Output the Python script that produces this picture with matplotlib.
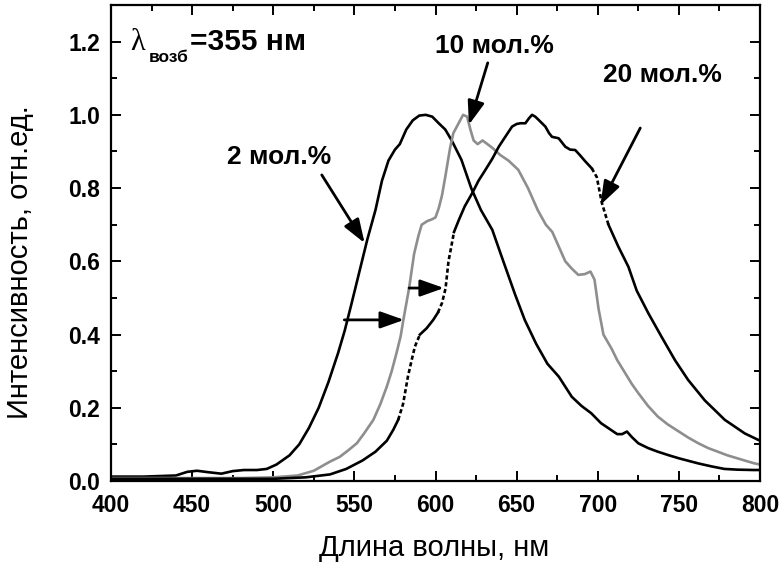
import numpy as np
import matplotlib
matplotlib.use("Agg")
import matplotlib.pyplot as plt
from matplotlib.ticker import MultipleLocator, FormatStrFormatter

# Emission spectra (wavelength nm, normalised intensity)
w2 = [400, 420, 440, 447, 453, 460, 468, 475, 482, 490, 496, 502, 510, 516, 522, 528,
      534, 540, 544, 548, 553, 558, 563, 567, 571, 575, 578, 582, 586, 590, 594, 598,
      602, 606, 610, 616, 622, 628, 635, 641, 649, 655, 662, 669, 676, 684, 690, 696,
      702, 708, 712, 715, 718, 721, 725, 731, 737, 744, 750, 756, 762, 770, 778, 786,
      796, 800]
i2 = [0.012, 0.012, 0.015, 0.025, 0.028, 0.024, 0.020, 0.027, 0.030, 0.030, 0.033, 0.045,
      0.070, 0.100, 0.145, 0.200, 0.270, 0.350, 0.410, 0.480, 0.570, 0.660, 0.740, 0.820,
      0.875, 0.905, 0.920, 0.960, 0.985, 0.998, 1.000, 0.995, 0.977, 0.960, 0.930, 0.877,
      0.800, 0.740, 0.686, 0.610, 0.510, 0.440, 0.375, 0.320, 0.285, 0.230, 0.205, 0.185,
      0.158, 0.140, 0.128, 0.128, 0.135, 0.120, 0.103, 0.090, 0.080, 0.070, 0.062, 0.055,
      0.048, 0.040, 0.033, 0.031, 0.030, 0.030]

w10 = [400, 450, 480, 500, 515, 525, 535, 541, 546, 551.5, 556, 561.7, 566, 570, 573,
       576, 578.5, 580.2, 583.7, 586.8, 589.5, 591.5, 595, 598, 600, 602, 604, 606, 607.5,
       609, 611, 614, 617, 619.5, 621.5, 623.5, 626, 629, 632, 635, 640, 645, 651, 657,
       663, 668, 672, 676, 680, 684, 688, 692, 695.5, 698, 700.5, 703.5, 708.7, 712, 717,
       721, 725, 731, 737, 743, 750, 756, 762, 768, 774, 780, 786, 792, 796.7, 800]
i10 = [0.008, 0.008, 0.008, 0.010, 0.015, 0.028, 0.053, 0.066, 0.083, 0.103, 0.130, 0.167,
       0.210, 0.258, 0.300, 0.350, 0.395, 0.440, 0.526, 0.620, 0.670, 0.700, 0.710, 0.715,
       0.720, 0.745, 0.780, 0.830, 0.870, 0.910, 0.950, 0.975, 1.000, 0.995, 0.960, 0.930,
       0.920, 0.930, 0.920, 0.910, 0.890, 0.875, 0.850, 0.800, 0.740, 0.700, 0.680, 0.640,
       0.600, 0.580, 0.563, 0.565, 0.572, 0.550, 0.470, 0.400, 0.360, 0.330, 0.294, 0.265,
       0.240, 0.205, 0.176, 0.155, 0.135, 0.118, 0.103, 0.090, 0.080, 0.070, 0.062, 0.054,
       0.048, 0.045]

w20 = [400, 450, 500, 510, 520, 535, 545, 555, 563, 570, 574, 577, 580, 583, 585.3,
       587.3, 590.4, 594.5, 598.6, 601.5, 604, 606.2, 608, 609.3, 611.4, 614.4, 618, 622.6,
       626.5, 630.8, 635, 639, 643, 647.2, 650, 652.3, 655.4, 657.5, 659.5, 661.5, 663.6,
       667.7, 670, 671.8, 675.9, 680, 683, 686.1, 689, 692.3, 696.3, 699.4, 702.5, 706.6,
       712.7, 718.9, 724, 731.2, 739.3, 747.6, 755.7, 766, 778.3, 790.6, 796.7, 800]
i20 = [0.006, 0.006, 0.006, 0.008, 0.010, 0.018, 0.033, 0.056, 0.080, 0.110, 0.140, 0.167,
       0.210, 0.285, 0.330, 0.367, 0.400, 0.417, 0.440, 0.460, 0.486, 0.526, 0.600, 0.630,
       0.680, 0.713, 0.750, 0.786, 0.820, 0.850, 0.880, 0.913, 0.940, 0.968, 0.975, 0.977,
       0.977, 0.990, 1.000, 0.995, 0.986, 0.968, 0.950, 0.940, 0.936, 0.913, 0.905, 0.904,
       0.890, 0.873, 0.854, 0.830, 0.760, 0.700, 0.640, 0.585, 0.520, 0.458, 0.394, 0.330,
       0.276, 0.220, 0.167, 0.130, 0.117, 0.110]

# parts of the 20 mol.% trace that are drawn dashed in the original
dashed_spans_20 = [(577, 590.4), (601.5, 611.4), (696.3, 706.6)]

plt.rcParams["font.family"] = ["Liberation Sans", "DejaVu Sans"]

fig = plt.figure(figsize=(7.79, 5.66), dpi=100)
ax = fig.add_axes([111 / 779, 1 - 481 / 566, (760 - 111) / 779, (481 - 5) / 566])

lw = 1.9
ax.plot(w2, i2, color="black", lw=lw)
ax.plot(w10, i10, color="#8e8e8e", lw=lw)

x20 = np.array(w20, dtype=float)
y20 = np.array(i20, dtype=float)
solid = y20.copy()
for a, b in dashed_spans_20:
    solid[(x20 > a) & (x20 < b)] = np.nan
    m = (x20 >= a) & (x20 <= b)
    ax.plot(x20[m], y20[m], color="black", lw=lw, ls=(0, (1.6, 1.0)))
ax.plot(x20, solid, color="black", lw=lw)

ax.set_xlim(400, 800)
ax.set_ylim(0, 1.3)
ax.xaxis.set_major_locator(MultipleLocator(50))
ax.xaxis.set_minor_locator(MultipleLocator(25))
ax.yaxis.set_major_locator(MultipleLocator(0.2))
ax.yaxis.set_minor_locator(MultipleLocator(0.1))
ax.yaxis.set_major_formatter(FormatStrFormatter("%.1f"))
ax.tick_params(which="both", direction="in", top=True, right=True, width=1.4)
ax.tick_params(which="major", length=7)
ax.tick_params(which="minor", length=4)
ax.tick_params(axis="x", pad=9)
ax.tick_params(axis="y", pad=8)
for lab in ax.get_xticklabels() + ax.get_yticklabels():
    lab.set_fontsize(16.5)
    lab.set_fontweight("bold")
for sp in ax.spines.values():
    sp.set_linewidth(1.6)

ax.set_xlabel("Длина волны, нм", fontsize=21)
ax.set_ylabel("Интенсивность, отн.ед.", fontsize=21)
ax.xaxis.set_label_coords(0.4977, -0.112)
ax.yaxis.set_label_coords(-0.118, 0.46)

# excitation wavelength label
ax.text(411.7, 1.178, "λ", fontsize=22, family="Liberation Serif", va="baseline", ha="left")
ax.text(423.0, 1.145, "возб", fontsize=12.5, fontweight="bold", va="baseline", ha="left")
ax.text(448.5, 1.178, "=355 нм", fontsize=21.5, fontweight="bold", va="baseline", ha="left")

# curve labels and arrows
ax.text(503.5, 0.885, "2 мол.%", fontsize=19, fontweight="bold", ha="center", va="center")
ax.text(636.4, 1.189, "10 мол.%", fontsize=19, fontweight="bold", ha="center", va="center")
ax.text(739.6, 1.109, "20 мол.%", fontsize=19, fontweight="bold", ha="center", va="center")

arrow_kw = dict(arrowstyle="-|>,head_length=0.9,head_width=0.32", color="black",
                lw=2.0, mutation_scale=16, shrinkA=0, shrinkB=0)
ax.annotate("", xy=(556.3, 0.65), xytext=(529.9, 0.836), arrowprops=arrow_kw)
ax.annotate("", xy=(620.6, 0.973), xytext=(632.2, 1.142), arrowprops=arrow_kw)
ax.annotate("", xy=(701.7, 0.754), xytext=(726.2, 0.964), arrowprops=arrow_kw)
ax.annotate("", xy=(580.6, 0.44), xytext=(543.8, 0.44), arrowprops=arrow_kw)
ax.annotate("", xy=(605.2, 0.527), xytext=(583.7, 0.527), arrowprops=arrow_kw)

fig.savefig("out.png", dpi=100)
